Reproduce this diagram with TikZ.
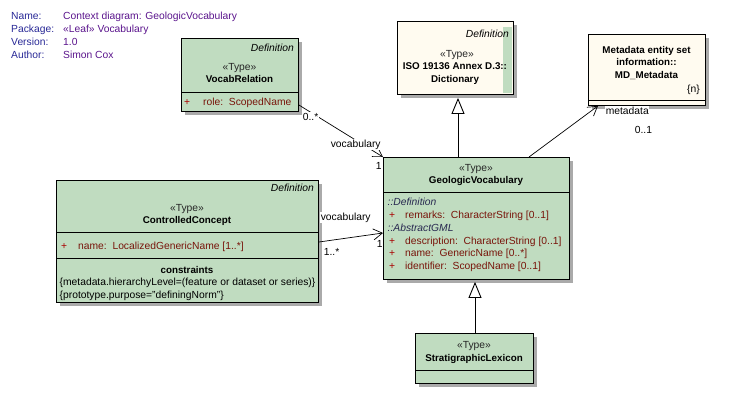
\documentclass[tikz,border=0pt]{standalone}
\usepackage{fontspec}
\setmainfont{Liberation Sans}
\usetikzlibrary{arrows.meta,shadows}

\definecolor{classgreen}{RGB}{192,220,192}
\definecolor{classcream}{RGB}{255,251,240}
\definecolor{hdrlabel}{RGB}{40,40,150}
\definecolor{hdrvalue}{RGB}{90,20,140}
\definecolor{attrplus}{RGB}{170,0,0}
\definecolor{attrtext}{RGB}{120,20,10}
\definecolor{scopetext}{RGB}{40,40,80}
\definecolor{shadowgray}{RGB}{170,170,170}

\newcommand{\regfont}{\fontsize{10.3pt}{12pt}\selectfont}
\newcommand{\boldfont}{\fontsize{9.8pt}{12pt}\selectfont\bfseries}

\tikzset{
  every node/.style={font=\regfont},
  classbox/.style={draw=black, line width=0.9pt, fill=classgreen, anchor=north west,
    inner sep=0pt, drop shadow={shadow xshift=4pt, shadow yshift=-4pt, fill=shadowgray, opacity=1}},
  creambox/.style={classbox, fill=classcream},
  sep/.style={line width=0.9pt},
  ctr/.style={inner sep=0pt, anchor=base},
  lft/.style={inner sep=0pt, anchor=base west},
  rgt/.style={inner sep=0pt, anchor=base east},
  stereo/.style={ctr, text=black!85},
  cname/.style={ctr, font=\boldfont},
  tag/.style={rgt, font=\regfont\itshape},
  plus/.style={lft, text=attrplus},
  attr/.style={lft, text=attrtext},
  scope/.style={lft, text=scopetext, font=\regfont\itshape},
  hlabel/.style={lft, text=hdrlabel},
  hvalue/.style={lft, text=hdrvalue},
  role/.style={lft, fill=white, inner sep=0.6pt},
  assoc/.style={line width=0.7pt, -{Straight Barb[length=9pt,width=11pt]}},
  gen/.style={line width=0.9pt, -{Triangle[open,length=16pt,width=13pt,fill=white]}},
}

\begin{document}
\begin{tikzpicture}[x=1pt,y=-1pt]
\useasboundingbox (0,0) rectangle (732,394);

% diagram properties
\node[hlabel] (hname) at (11,19.5) {Name:};
\node[hlabel] (hpkg)  at (11,32.5) {Package:};
\node[hlabel] (hver)  at (11,45.5) {Version:};
\node[hlabel] (hauth) at (11,58.5) {Author:};
\node[hvalue] (vname) at (63,19.5) {Context diagram: GeologicVocabulary};
\node[hvalue] (vpkg)  at (63,32.5) {«Leaf» Vocabulary};
\node[hvalue] (vver)  at (63,45.5) {1.0};
\node[hvalue] (vauth) at (63,58.5) {Simon Cox};

% VocabRelation
\node[classbox, minimum width=117pt, minimum height=73pt] (vr) at (181,38) {};
\draw[sep] ([yshift=-54pt]vr.north west) -- ([yshift=-54pt]vr.north east);
\node[tag] (vrdef) at (294,51.5) {Definition};
\node[stereo] (vrst) at (239.5,70.5) {«Type»};
\node[cname] (vrnm) at (239.5,82.5) {VocabRelation};
\node[plus] (vrp1) at (184,105) {+};
\node[attr] (vra1) at (203,105) {role:\ \ ScopedName};

% Dictionary (external)
\node[creambox, minimum width=116pt, minimum height=73pt] (dict) at (397,21) {};
\fill[classgreen] ([shift={(-11pt,-6pt)}]dict.north east) rectangle ([shift={(-2pt,2pt)}]dict.south east);
\node[tag] (dictdef) at (509,37.5) {Definition};
\node[stereo] (dictst) at (457,57) {«Type»};
\node[cname] (dictns) at (455,69.5) {ISO 19136 Annex D.3::};
\node[cname] (dictnm) at (455,82.5) {Dictionary};

% MD_Metadata (external)
\node[creambox, minimum width=117pt, minimum height=71pt] (md) at (588,34) {};
\draw[sep] ([yshift=5pt]md.south west) -- ([yshift=5pt]md.south east);
\node[cname] (mdl1) at (646.5,53) {Metadata entity set};
\node[cname] (mdl2) at (646.5,65.5) {information::};
\node[cname] (mdl3) at (646.5,78) {MD\_Metadata};
\node[rgt] (mdn) at (700,92.5) {\{n\}};

% GeologicVocabulary
\node[classbox, minimum width=186pt, minimum height=122pt] (gv) at (383,157) {};
\draw[sep] ([yshift=-35pt]gv.north west) -- ([yshift=-35pt]gv.north east);
\node[stereo] (gvst) at (476,171.5) {«Type»};
\node[cname] (gvnm) at (476,183.5) {GeologicVocabulary};
\node[scope] (gvs1) at (387.5,205.5) {::Definition};
\node[plus] (gvp1) at (389,218.5) {+};
\node[attr] (gva1) at (405,218.5) {remarks:\ \ CharacterString [0..1]};
\node[scope] (gvs2) at (387.5,231) {::AbstractGML};
\node[plus] (gvp2) at (389,244) {+};
\node[attr] (gva2) at (405,244) {description:\ \ CharacterString [0..1]};
\node[plus] (gvp3) at (389,256.5) {+};
\node[attr] (gva3) at (405,256.5) {name:\ \ GenericName [0..*]};
\node[plus] (gvp4) at (389,269) {+};
\node[attr] (gva4) at (405,269) {identifier:\ \ ScopedName [0..1]};

% ControlledConcept
\node[classbox, minimum width=262pt, minimum height=122pt] (cc) at (56,180) {};
\draw[sep] ([yshift=-52pt]cc.north west) -- ([yshift=-52pt]cc.north east);
\draw[sep] ([yshift=-78pt]cc.north west) -- ([yshift=-78pt]cc.north east);
\node[tag] (ccdef) at (314,191) {Definition};
\node[stereo] (ccst) at (187,211) {«Type»};
\node[cname] (ccnm) at (187,223.5) {ControlledConcept};
\node[plus] (ccp1) at (61,249) {+};
\node[attr] (cca1) at (78,249) {name:\ \ LocalizedGenericName [1..*]};
\node[cname] (cccon) at (187,273) {constraints};
\node[lft] (ccc1) at (59.5,285.5) {\{metadata.hierarchyLevel=(feature or dataset or series)\}};
\node[lft] (ccc2) at (59.5,298) {\{prototype.purpose="definingNorm"\}};

% StratigraphicLexicon
\node[classbox, minimum width=118pt, minimum height=50pt] (sl) at (415,333) {};
\draw[sep] ([yshift=13pt]sl.south west) -- ([yshift=13pt]sl.south east);
\node[stereo] (slst) at (474,348.5) {«Type»};
\node[cname] (slnm) at (474,361) {StratigraphicLexicon};

% generalizations
\draw[gen] ([xshift=75pt]gv.north west) -- ([xshift=61pt,yshift=-3pt]dict.south west);
\draw[gen] ([xshift=60pt]sl.north west) -- ([xshift=92pt,yshift=-2pt]gv.south west);

% associations
\draw[assoc] ([yshift=-67pt]vr.north east) -- (gv.north west);
\draw[assoc] ([yshift=-62pt]cc.north east) -- ([yshift=-76pt]gv.north west);
\draw[assoc] ([xshift=146pt]gv.north west) -- ([xshift=10pt]md.south west);

% association end labels
\node[role] (r1m) at (302,120) {0..*};
\node[role] (r1n) at (330,147.5) {vocabulary};
\node[role] (r1o) at (375,169) {1};
\node[role] (r2n) at (320,220) {vocabulary};
\node[role] (r2m) at (323,255) {1..*};
\node[role] (r2o) at (376,247) {1};
\node[role] (r3n) at (605,114) {metadata};
\node[role] (r3m) at (634,133) {0..1};
\end{tikzpicture}
\end{document}
